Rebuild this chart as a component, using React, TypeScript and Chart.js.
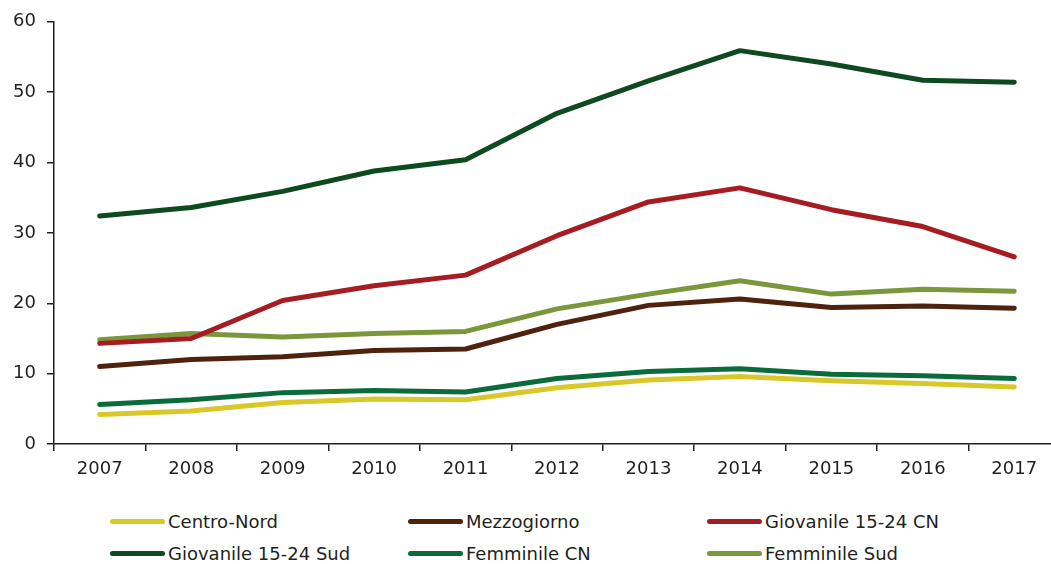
import React, { useEffect, useRef } from "react";
import { Chart, registerables } from "chart.js";

Chart.register(...registerables);

const years = ["2007", "2008", "2009", "2010", "2011", "2012", "2013", "2014", "2015", "2016", "2017"];
const centroNord = [4.2, 4.7, 5.9, 6.4, 6.3, 8.0, 9.1, 9.6, 9.0, 8.6, 8.1];
const mezzogiorno = [11.0, 12.0, 12.4, 13.3, 13.5, 17.0, 19.7, 20.6, 19.4, 19.6, 19.3];
const giovanileCN = [14.3, 15.0, 20.4, 22.5, 24.0, 29.6, 34.4, 36.4, 33.3, 30.9, 26.6];
const giovanileSud = [32.4, 33.6, 35.9, 38.8, 40.4, 47.0, 51.6, 55.9, 54.0, 51.7, 51.4];
const femminileCN = [5.6, 6.3, 7.3, 7.6, 7.4, 9.3, 10.3, 10.7, 9.9, 9.7, 9.3];
const femminileSud = [14.8, 15.7, 15.2, 15.7, 16.0, 19.2, 21.3, 23.2, 21.3, 22.0, 21.7];
const yTicks = [0, 10, 20, 30, 40, 50, 60];

const series = [
  { label: "Centro-Nord", data: centroNord, color: "#d8c829" },
  { label: "Mezzogiorno", data: mezzogiorno, color: "#4f220e" },
  { label: "Giovanile 15-24 CN", data: giovanileCN, color: "#a51c22" },
  { label: "Giovanile 15-24 Sud", data: giovanileSud, color: "#0e4a1f" },
  { label: "Femminile CN", data: femminileCN, color: "#0a6b3b" },
  { label: "Femminile Sud", data: femminileSud, color: "#7a973b" },
];

const legendPos = [
  { left: 110, top: 521 },
  { left: 408, top: 521 },
  { left: 707, top: 521 },
  { left: 110, top: 553 },
  { left: 408, top: 553 },
  { left: 707, top: 553 },
];

const FONT = "'DejaVu Sans', sans-serif";
const TEXT = "#231f20";

export default function App() {
  const ref = useRef<HTMLCanvasElement>(null);
  useEffect(() => {
    if (!ref.current) return;
    const chart = new Chart(ref.current, {
      type: "line",
      data: {
        labels: years,
        datasets: series.map((s) => ({
          label: s.label,
          data: s.data,
          borderColor: s.color,
          backgroundColor: s.color,
          borderWidth: 5,
          pointRadius: 0,
          tension: 0,
          borderCapStyle: "round" as const,
          borderJoinStyle: "round" as const,
          fill: false,
        })),
      },
      options: {
        animation: false,
        responsive: false,
        maintainAspectRatio: false,
        layout: { padding: { top: 21, right: 0, bottom: 0, left: 0 } },
        plugins: { legend: { display: false }, tooltip: { enabled: false } },
        scales: {
          x: {
            offset: true,
            grid: { offset: true, drawOnChartArea: false, drawTicks: true, tickLength: 7, color: TEXT, lineWidth: 1.5 },
            border: { color: TEXT, width: 1.5 },
            ticks: { color: TEXT, font: { family: FONT, size: 18 }, padding: 8, maxRotation: 0 },
            afterFit: (scale: any) => {
              scale.height = 46;
            },
          },
          y: {
            min: 0,
            max: 60,
            afterBuildTicks: (scale: any) => {
              scale.ticks = yTicks.map((v) => ({ value: v }));
            },
            grid: { drawOnChartArea: false, drawTicks: true, tickLength: 7, color: TEXT, lineWidth: 1.5 },
            border: { color: TEXT, width: 1.5 },
            ticks: { color: TEXT, font: { family: FONT, size: 18 }, padding: 11 },
            afterFit: (scale: any) => {
              scale.width = 54;
            },
          },
        },
      },
    });
    return () => chart.destroy();
  }, []);

  return (
    <div style={{ position: "fixed", left: 0, top: 0, width: 1051, height: 564, overflow: "hidden", background: "#fff" }}>
      <canvas ref={ref} width={1060} height={490} style={{ position: "absolute", left: 0, top: 0, width: 1060, height: 490 }} />
      {series.map((s, i) => (
        <div
          key={s.label}
          style={{
            position: "absolute",
            left: legendPos[i].left,
            top: legendPos[i].top - 12,
            height: 24,
            display: "flex",
            alignItems: "center",
            fontFamily: FONT,
            fontSize: 18,
            color: TEXT,
            whiteSpace: "nowrap",
          }}
        >
          <span style={{ display: "inline-block", width: 55, height: 5, borderRadius: 3, background: s.color, marginRight: 3 }} />
          <span>{s.label}</span>
        </div>
      ))}
    </div>
  );
}
